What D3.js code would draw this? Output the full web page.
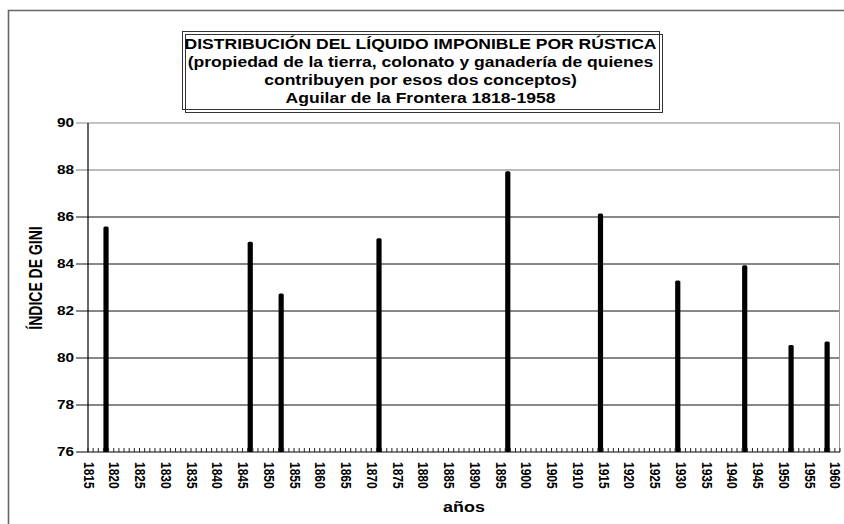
<!DOCTYPE html>
<html>
<head>
<meta charset="utf-8">
<script src="https://cdn.jsdelivr.net/npm/d3@7"></script>
<style>
  html, body { margin: 0; padding: 0; background: #fff; }
  svg { display: block; }
  text { font-family: "Liberation Sans", Arial, sans-serif; font-weight: bold; fill: #000; }
</style>
</head>
<body>
<script>
// ---- data ----
const titleLines = [
  "DISTRIBUCIÓN DEL LÍQUIDO IMPONIBLE POR RÚSTICA",
  "(propiedad de la tierra, colonato y ganadería de quienes",
  "contribuyen por esos dos conceptos)",
  "Aguilar de la Frontera 1818-1958"
];
const yAxisTitle = "ÍNDICE DE GINI";
const xAxisTitle = "años";
const firstYear = 1815;
const lastYear = 1960;
const dataYears = [1818, 1846, 1852, 1871, 1896, 1914, 1929, 1942, 1951, 1958];
const giniValues = [85.6, 84.95, 82.75, 85.1, 87.95, 86.15, 83.3, 83.95, 80.55, 80.7];
const yTicks = [76, 78, 80, 82, 84, 86, 88, 90];
const xTickLabels = [1815, 1820, 1825, 1830, 1835, 1840, 1845, 1850, 1855, 1860, 1865, 1870,
  1875, 1880, 1885, 1890, 1895, 1900, 1905, 1910, 1915, 1920, 1925, 1930, 1935, 1940,
  1945, 1950, 1955, 1960];

// ---- layout ----
const W = 844, H = 524;
const SX = 1.28; // horizontal stretch of the original chart's text
const plot = { left: 88, right: 840, top: 123, bottom: 452 };

const categories = d3.range(firstYear, lastYear + 1);

const svg = d3.select("body").append("svg").attr("width", W).attr("height", H);
svg.append("rect").attr("width", W).attr("height", H).attr("fill", "#fff");

// outer chart frame
svg.append("path")
  .attr("d", `M8.5,${H + 5} V10.5 H${W + 5}`)
  .attr("fill", "none").attr("stroke", "#666").attr("stroke-width", 1.6);

const x = d3.scaleBand().domain(categories).range([plot.left, plot.right]).padding(0);
const y = d3.scaleLinear().domain([76, 90]).range([plot.bottom, plot.top]);
const bw = x.bandwidth();

// gridlines with outward ticks
svg.append("g").selectAll("line").data(yTicks.filter(v => v !== 76)).join("line")
  .attr("x1", plot.left - 12).attr("x2", plot.right)
  .attr("y1", d => y(d)).attr("y2", d => y(d))
  .attr("stroke", d => d === 90 ? "#888" : (d === 88 ? "#777" : "#111")).attr("stroke-width", 1);

// plot right border
svg.append("line")
  .attr("x1", plot.right - 0.5).attr("x2", plot.right - 0.5)
  .attr("y1", plot.top).attr("y2", plot.bottom)
  .attr("stroke", "#999").attr("stroke-width", 1);

// bars
svg.append("g").selectAll("rect").data(dataYears.map((yr, i) => ({ yr, v: giniValues[i] })))
  .join("rect")
  .attr("x", d => x(d.yr) + bw / 2 - 2.6)
  .attr("width", 5.2)
  .attr("y", d => y(d.v))
  .attr("height", d => y(76) - y(d.v))
  .attr("rx", 1.5)
  .attr("fill", "#000");

// y axis line
svg.append("line")
  .attr("x1", plot.left).attr("x2", plot.left)
  .attr("y1", plot.top).attr("y2", plot.bottom)
  .attr("stroke", "#000").attr("stroke-width", 1.2);

// x axis line
svg.append("line")
  .attr("x1", plot.left - 12).attr("x2", plot.right)
  .attr("y1", plot.bottom).attr("y2", plot.bottom)
  .attr("stroke", "#000").attr("stroke-width", 1.2);

// minor x ticks at category boundaries (inside)
const boundaries = categories.map(c => x(c)).concat([plot.right]);
svg.append("g").selectAll("line").data(boundaries).join("line")
  .attr("x1", d => d).attr("x2", d => d)
  .attr("y1", plot.bottom).attr("y2", plot.bottom - 4)
  .attr("stroke", "#222").attr("stroke-width", 1);

// y tick labels
svg.append("g").selectAll("text").data(yTicks).join("text")
  .attr("transform", d => `translate(74,${y(d)}) scale(${SX},1)`)
  .attr("text-anchor", "end")
  .attr("dominant-baseline", "central")
  .attr("font-size", 12)
  .text(d => d);

// x tick labels (rotated)
svg.append("g").selectAll("text").data(xTickLabels).join("text")
  .attr("transform", d => `translate(${x(d) + bw / 2 - 2},462) scale(${SX},1) rotate(90)`)
  .attr("text-anchor", "start")
  .attr("dominant-baseline", "central")
  .attr("font-size", 12)
  .text(d => d);

// axis titles
svg.append("text")
  .attr("transform", `translate(35,278) scale(${SX},1) rotate(-90)`)
  .attr("text-anchor", "middle")
  .attr("dominant-baseline", "central")
  .attr("font-size", 14)
  .text(yAxisTitle);

svg.append("text")
  .attr("transform", `translate(464,512) scale(${SX},1)`)
  .attr("text-anchor", "middle")
  .attr("font-size", 14)
  .text(xAxisTitle);

// title box (double frame)
const box = { x: 182, y: 31, w: 477, h: 78 };
svg.append("rect")
  .attr("x", box.x + 3.5).attr("y", box.y + 3.5).attr("width", box.w).attr("height", box.h)
  .attr("fill", "none").attr("stroke", "#333").attr("stroke-width", 1);
svg.append("rect")
  .attr("x", box.x + 0.5).attr("y", box.y + 0.5).attr("width", box.w).attr("height", box.h)
  .attr("fill", "none").attr("stroke", "#333").attr("stroke-width", 1);

const cx = box.x + box.w / 2;
const titleG = svg.append("g");
const tl = titleG.selectAll("text").data(titleLines).join("text")
  .attr("text-anchor", "middle")
  .attr("font-size", 14)
  .text(d => d);
// fit first line to the box width, apply same stretch to all lines
const natural = tl.nodes()[0].getComputedTextLength();
const tsx = 472 / natural;
tl.attr("transform", (d, i) => `translate(${cx},${49 + i * 18}) scale(${tsx},1)`);
</script>
</body>
</html>
